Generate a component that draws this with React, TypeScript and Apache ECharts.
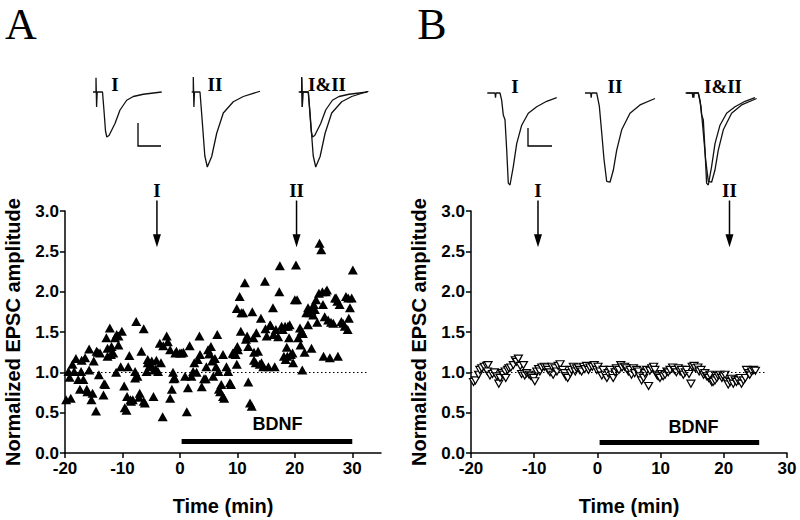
import React, { useEffect, useRef } from "react";
import * as echarts from "echarts";

const SANS = '"Liberation Sans", Arial, Helvetica, sans-serif';
const SERIF = '"Liberation Serif", "Times New Roman", Times, serif';

const timeTicks = [-20, -10, 0, 10, 20, 30];

// Panel A: EPSC amplitude with BDNF (filled triangles) [time (min), normalized amplitude]
const epscA: [number, number][] = [
  [-19.8, 0.66], [-19.0, 0.68], [-19.4, 1.01], [-19.2, 0.94], [-18.7, 1.1], [-18.4, 1.01], [-18.1, 1.17],
  [-17.7, 0.91], [-17.4, 0.79], [-17.2, 1.01], [-17.1, 1.15], [-16.8, 0.91], [-16.5, 1.18], [-16.2, 0.79],
  [-16.1, 0.76], [-15.8, 1.03], [-15.8, 1.29], [-15.4, 0.66], [-15.2, 0.74], [-15.0, 1.14], [-14.6, 0.52],
  [-14.5, 1.26], [-14.3, 1.25], [-14.1, 0.97], [-13.9, 1.24], [-13.3, 0.72], [-13.2, 0.86], [-13.0, 0.85],
  [-12.8, 1.43], [-12.6, 1.3], [-12.6, 1.2], [-12.2, 1.55], [-11.9, 1.32], [-12.0, 1.22], [-11.6, 1.24],
  [-11.3, 1.43], [-11.0, 1.47], [-11.1, 1.0], [-10.7, 1.45], [-10.7, 1.34], [-10.3, 1.07], [-10.1, 1.51],
  [-9.7, 0.83], [-9.6, 0.56], [-9.3, 0.53], [-9.2, 0.7], [-9.0, 1.07], [-8.8, 1.21], [-8.6, 0.66],
  [-8.5, 0.64], [-8.2, 0.66], [-7.8, 1.01], [-7.8, 0.93], [-7.6, 1.63], [-7.4, 0.95], [-7.1, 0.69],
  [-7.0, 0.74], [-6.7, 1.26], [-6.3, 1.54], [-6.3, 0.64], [-6.1, 0.62], [-5.8, 1.01], [-5.6, 1.16],
  [-5.6, 1.12], [-5.3, 1.07], [-5.1, 1.1], [-4.9, 1.14], [-4.6, 0.7], [-4.5, 1.03], [-4.2, 1.04],
  [-4.1, 1.15], [-3.8, 1.01], [-3.5, 1.36], [-3.3, 1.12], [-3.0, 0.45], [-2.9, 1.33], [-2.3, 1.45],
  [-2.1, 1.38], [-1.7, 1.28], [-1.7, 0.68], [-1.4, 0.79], [-1.2, 1.0], [-1.1, 0.92], [-0.9, 0.93],
  [-0.8, 1.24], [-0.6, 1.26], [0.0, 1.24], [0.3, 1.24], [0.6, 1.25], [0.9, 0.95], [1.2, 0.51],
  [1.4, 0.81], [1.7, 1.33], [2.0, 0.95], [2.3, 1.01], [2.5, 1.12], [2.9, 1.0], [3.1, 1.16],
  [3.4, 1.45], [3.5, 1.22], [3.8, 0.82], [4.2, 0.92], [4.5, 0.92], [4.6, 1.07], [4.9, 1.28],
  [5.1, 1.23], [5.2, 1.23], [5.4, 1.32], [5.6, 1.14], [5.8, 0.95], [6.1, 1.17], [6.3, 1.07],
  [6.5, 1.47], [6.7, 1.01], [6.8, 0.79], [7.0, 0.76], [7.2, 0.85], [7.5, 0.7], [7.5, 1.22],
  [7.7, 0.68], [8.1, 1.07], [8.4, 1.01], [8.7, 0.87], [8.9, 0.85], [9.2, 1.24], [9.3, 1.23],
  [9.4, 1.24], [9.7, 1.22], [9.9, 1.1], [10.0, 1.32], [9.9, 1.79], [10.1, 1.28], [10.4, 1.94],
  [10.6, 1.51], [10.7, 1.74], [11.0, 1.74], [11.3, 2.11], [11.5, 1.41], [11.7, 1.45], [11.9, 1.32],
  [11.9, 0.88], [12.2, 0.62], [12.5, 0.58], [12.6, 1.75], [12.8, 1.43], [12.9, 1.25], [12.9, 1.15],
  [13.2, 1.12], [13.3, 1.49], [13.6, 1.26], [13.9, 1.1], [14.1, 1.67], [14.2, 1.12], [14.5, 1.07],
  [14.8, 2.13], [14.9, 1.54], [15.1, 1.45], [15.4, 1.07], [15.7, 1.59], [15.8, 1.58], [16.2, 1.8],
  [16.3, 1.47], [16.5, 1.07], [16.7, 1.53], [17.1, 1.44], [17.3, 2.0], [17.4, 2.32], [17.7, 1.57],
  [17.9, 1.53], [18.1, 1.2], [18.3, 1.57], [18.4, 1.16], [18.6, 1.31], [18.7, 1.2], [18.8, 1.57],
  [19.0, 1.43], [19.1, 1.59], [19.3, 1.22], [19.6, 1.24], [19.7, 1.12], [20.0, 1.9], [20.2, 2.33],
  [20.4, 1.9], [20.6, 1.43], [20.9, 1.55], [21.0, 1.34], [21.2, 1.51], [21.3, 1.03], [21.4, 1.48],
  [21.7, 1.25], [22.0, 1.74], [22.3, 1.59], [22.3, 1.8], [22.6, 1.74], [22.9, 1.76], [22.9, 1.3],
  [23.2, 1.71], [23.3, 1.84], [23.5, 1.78], [23.7, 1.9], [23.9, 1.62], [24.2, 1.98], [24.3, 2.6],
  [24.6, 2.52], [24.8, 2.0], [24.9, 1.84], [25.0, 1.2], [25.2, 1.69], [25.4, 2.0], [25.6, 2.02],
  [25.8, 1.65], [26.1, 1.18], [26.3, 1.62], [26.7, 1.61], [27.0, 1.92], [27.2, 1.92], [27.4, 1.88],
  [27.5, 1.2], [27.8, 1.84], [28.1, 1.63], [28.4, 1.61], [28.7, 1.57], [28.9, 1.94], [29.2, 1.53],
  [29.3, 1.92], [29.4, 1.67], [29.6, 1.8], [29.9, 1.92], [30.1, 2.27],
];

// Panel B: control (open inverted triangles)
const epscB: [number, number][] = [
  [-19.6, 0.88], [-19.3, 0.9], [-18.8, 0.97], [-18.6, 1.03], [-18.3, 1.05], [-17.9, 1.07], [-17.5, 1.08],
  [-17.3, 1.09], [-17.4, 1.01], [-17.0, 0.96], [-16.6, 0.98], [-16.3, 1.0], [-15.9, 0.95], [-15.6, 0.86],
  [-15.4, 0.93], [-15.1, 0.99], [-14.9, 0.97], [-14.6, 1.01], [-14.5, 0.93], [-14.2, 1.03], [-14.0, 1.05],
  [-13.7, 1.06], [-13.3, 1.09], [-13.0, 1.15], [-12.8, 1.13], [-12.5, 1.17], [-12.2, 1.08], [-12.0, 0.98],
  [-11.7, 1.09], [-11.5, 0.96], [-11.2, 0.99], [-10.8, 0.97], [-10.5, 0.95], [-10.1, 0.93], [-9.9, 0.89],
  [-9.6, 1.01], [-9.3, 1.04], [-9.1, 1.01], [-8.8, 1.06], [-8.4, 1.07], [-8.0, 1.06], [-7.8, 1.03],
  [-7.5, 1.0], [-7.2, 1.07], [-7.0, 0.97], [-6.7, 1.05], [-6.4, 1.01], [-6.2, 1.08], [-5.9, 1.1],
  [-5.5, 1.03], [-5.2, 0.99], [-5.0, 0.95], [-4.7, 0.93], [-4.3, 0.99], [-4.1, 1.03], [-3.8, 1.07],
  [-3.5, 1.01], [-3.3, 1.05], [-3.0, 1.06], [-2.8, 1.03], [-2.5, 1.01], [-2.2, 1.07], [-2.0, 1.04],
  [-1.7, 1.08], [-1.4, 1.03], [-1.2, 1.06], [-0.8, 1.07], [-0.5, 1.09], [-0.1, 1.03], [0.1, 1.07],
  [0.4, 1.01], [0.7, 0.96], [0.9, 1.03], [1.2, 0.97], [1.5, 0.93], [1.7, 0.99], [2.0, 1.03],
  [2.3, 0.97], [2.5, 0.93], [2.8, 1.0], [3.0, 1.05], [3.4, 1.03], [3.7, 1.09], [3.9, 1.06],
  [4.3, 1.07], [4.6, 1.05], [4.9, 1.01], [5.2, 1.03], [5.4, 0.97], [5.7, 1.05], [5.9, 0.99],
  [6.2, 1.03], [6.5, 1.01], [6.7, 0.95], [7.0, 0.9], [7.3, 0.93], [7.5, 0.99], [7.8, 1.03],
  [8.1, 0.83], [8.3, 1.02], [8.6, 1.05], [8.9, 1.07], [9.1, 1.03], [9.4, 0.97], [9.6, 0.95],
  [9.9, 0.93], [10.2, 0.98], [10.4, 0.95], [10.7, 0.97], [11.0, 1.01], [11.2, 1.0], [11.5, 1.03],
  [11.9, 1.06], [12.2, 1.03], [12.5, 1.0], [12.8, 1.05], [13.1, 1.01], [13.3, 1.03], [13.6, 0.97],
  [13.9, 1.0], [14.1, 1.03], [14.5, 0.98], [14.8, 0.86], [15.0, 1.07], [15.3, 1.08], [15.5, 1.05],
  [15.9, 1.06], [16.1, 1.01], [16.4, 1.03], [16.8, 0.97], [17.0, 0.99], [17.3, 0.95], [17.6, 0.93],
  [17.8, 0.97], [18.1, 0.88], [18.3, 0.88], [18.6, 0.9], [18.9, 0.93], [19.1, 0.96], [19.4, 0.97],
  [19.7, 0.93], [19.9, 0.95], [20.2, 0.97], [20.5, 0.89], [20.7, 0.85], [21.0, 0.88], [21.2, 0.92],
  [21.5, 0.86], [21.8, 0.9], [22.0, 0.88], [22.3, 0.9], [22.6, 0.93], [22.8, 0.86], [23.1, 0.9],
  [23.4, 0.93], [23.6, 1.03], [23.9, 0.99], [24.1, 0.97], [24.4, 1.01], [24.7, 1.03], [25.0, 1.02],
];

// Example EPSC traces [time from stimulus, current (fraction of largest)]
const traceA_I: [number, number][] = [
  [-3, 0], [0, 0], [0, 0.19], [0.6, -0.2], [1.2, 0], [6.5, 0], [8, -0.25], [9.5, -0.52], [10.8, -0.6],
  [13, -0.58], [19, -0.42], [24, -0.24], [30.7, -0.11], [37.3, -0.06], [47.3, -0.03], [65.7, 0],
];
const traceA_II: [number, number][] = [
  [-1.6, 0], [0, 0], [0, 0.2], [0.6, -0.2], [1.2, 0], [6.7, 0], [9, -0.4], [11.5, -0.85], [14, -1.0],
  [18.4, -0.86], [23.4, -0.55], [30, -0.28], [40, -0.13], [50, -0.06], [66.7, 0.01],
];
const traceB_I: [number, number][] = [
  [-12.7, 0], [-5, 0], [-4.5, -0.05], [-4, 0], [0, 0], [1.7, -0.08], [3.3, -0.24], [5, -0.29],
  [6.7, -0.62], [8.3, -0.98], [10, -1.0], [13.3, -0.8], [16.7, -0.55], [21.7, -0.35], [28.3, -0.22],
  [36.7, -0.15], [46.7, -0.09], [56.7, -0.05],
];
const traceB_II: [number, number][] = [
  [-11.7, 0], [-6, 0], [-5.5, -0.05], [-5, 0], [0, 0], [2.6, -0.14], [5, -0.43], [7.3, -0.72],
  [10, -0.96], [13.3, -0.97], [16.6, -0.84], [20, -0.62], [25, -0.4], [33.3, -0.22], [43.3, -0.13],
  [58.3, -0.06],
];

const traceLabels = ["I", "II", "I&II"];

const arrowsA = [{ label: "I", t: -4.0 }, { label: "II", t: 20.3 }];
const arrowsB = [{ label: "I", t: -9.4 }, { label: "II", t: 20.9 }];
const arrowTopV = 3.13;
const arrowTipV = 2.55;
const arrowLabelV = 3.25;

const bdnfA = { start: 0.3, end: 30, level: 0.14, labelT: 17, labelV: 0.36 };
const bdnfB = { start: 0.35, end: 25.6, level: 0.13, labelT: 15.2, labelV: 0.32 };
const baselineEndA = 32.7;
const baselineEndB = 26.8;

const axisColor = "#000";

function mainX(gi: number, max: number) {
  return {
    gridIndex: gi,
    type: "value",
    min: -20,
    max,
    interval: 10,
    axisLine: { show: true, onZero: false, lineStyle: { color: axisColor, width: 1.5 } },
    axisTick: { show: true, length: 5, customValues: timeTicks, lineStyle: { color: axisColor, width: 1.5 } },
    axisLabel: {
      color: "#000", fontFamily: SANS, fontWeight: "bold", fontSize: 17, margin: 7, customValues: timeTicks,
    },
    splitLine: { show: false },
    name: "Time (min)",
    nameLocation: "middle",
    nameGap: 43,
    nameTextStyle: { color: "#000", fontFamily: SANS, fontWeight: "bold", fontSize: 20 },
  };
}

function mainY(gi: number) {
  return {
    gridIndex: gi,
    type: "value",
    min: 0,
    max: 3,
    interval: 0.5,
    axisLine: { show: true, onZero: false, lineStyle: { color: axisColor, width: 1.5 } },
    axisTick: { show: true, length: 5, lineStyle: { color: axisColor, width: 1.5 } },
    axisLabel: {
      color: "#000", fontFamily: SANS, fontWeight: "bold", fontSize: 17, margin: 6,
      formatter: (v: number) => v.toFixed(1),
    },
    splitLine: { show: false },
    name: "Normalized EPSC amplitude",
    nameLocation: "middle",
    nameGap: 42,
    nameTextStyle: { color: "#000", fontFamily: SANS, fontWeight: "bold", fontSize: 20 },
  };
}

function markers(b: typeof bdnfA, baselineEnd: number) {
  return {
    markLine: {
      silent: true,
      animation: false,
      symbol: ["none", "none"],
      label: { show: false },
      emphasis: { disabled: true },
      data: [
        [
          { coord: [-20, 1], lineStyle: { color: "#000", width: 1, type: [1.5, 2.5] } },
          { coord: [baselineEnd, 1] },
        ],
        [
          { coord: [b.start, b.level], lineStyle: { color: "#000", width: 5, type: "solid", cap: "butt" } },
          { coord: [b.end, b.level] },
        ],
      ],
    },
    markPoint: {
      silent: true,
      animation: false,
      symbol: "circle",
      symbolSize: 0,
      itemStyle: { color: "transparent" },
      label: {
        show: true, position: "inside", formatter: "BDNF", color: "#000",
        fontFamily: SANS, fontWeight: "bold", fontSize: 18,
      },
      data: [{ coord: [b.labelT, b.labelV] }],
    },
  };
}

const traceGridsA = [91, 188.3, 296.7].map((left) => ({ left, top: 69.5, width: 75, height: 120 }));
const traceGridsB = [485, 581.7, 683.3].map((left) => ({ left, top: 74.6, width: 75, height: 128.8 }));

export default function App() {
  const ref = useRef<HTMLDivElement>(null);

  useEffect(() => {
    document.body.style.margin = "0";
    const chart = echarts.init(ref.current!, null, { renderer: "svg" });

    const grids: any[] = [
      { left: 65, top: 211, width: 316, height: 242 },
      { left: 471, top: 211, width: 316, height: 242 },
      ...traceGridsA,
      ...traceGridsB,
    ];

    const xAxes: any[] = [mainX(0, 35), mainX(1, 30)];
    const yAxes: any[] = [mainY(0), mainY(1)];
    for (let i = 0; i < 6; i++) {
      const isA = i < 3;
      xAxes.push({ gridIndex: 2 + i, type: "value", min: isA ? -5 : -15, max: isA ? 70 : 60, show: false });
      yAxes.push({ gridIndex: 2 + i, type: "value", min: isA ? -1.3 : -1.2, max: isA ? 0.3 : 0.2, show: false });
    }

    const traceSets = [
      [traceA_I], [traceA_II], [traceA_I, traceA_II],
      [traceB_I], [traceB_II], [traceB_I, traceB_II],
    ];

    const series: any[] = [
      {
        type: "scatter",
        xAxisIndex: 0,
        yAxisIndex: 0,
        data: epscA,
        symbol: "triangle",
        symbolSize: [10, 9],
        itemStyle: { color: "#000", opacity: 1 },
        silent: true,
        z: 3,
        ...markers(bdnfA, baselineEndA),
      },
      {
        type: "scatter",
        xAxisIndex: 1,
        yAxisIndex: 1,
        data: epscB,
        symbol: "triangle",
        symbolRotate: 180,
        symbolSize: [8, 7],
        itemStyle: { color: "#fff", borderColor: "#000", borderWidth: 1.2, opacity: 1 },
        silent: true,
        z: 3,
        ...markers(bdnfB, baselineEndB),
      },
    ];
    traceSets.forEach((set, i) => {
      set.forEach((tr) => {
        series.push({
          type: "line",
          xAxisIndex: 2 + i,
          yAxisIndex: 2 + i,
          data: tr,
          showSymbol: false,
          symbol: "none",
          silent: true,
          clip: false,
          lineStyle: { color: "#111", width: 1.3 },
        });
      });
    });

    chart.setOption({
      animation: false,
      backgroundColor: "#fff",
      grid: grids,
      xAxis: xAxes,
      yAxis: yAxes,
      series,
    });

    const g: any[] = [];
    const textStyle = (text: string, x: number, y: number, font: string) => ({
      text, x, y, font, fill: "#000",
      textAlign: "center", textVerticalAlign: "middle", align: "center", verticalAlign: "middle",
    });

    // panel letters
    g.push({ type: "text", silent: true, style: textStyle("A", 21, 24, `44px ${SERIF}`) });
    g.push({ type: "text", silent: true, style: textStyle("B", 432, 24, `44px ${SERIF}`) });

    // trace labels
    const labelXA = [115, 215, 327];
    const labelXB = [515, 615, 723];
    traceLabels.forEach((t, i) => {
      g.push({ type: "text", silent: true, style: textStyle(t, labelXA[i], 84, `bold 19px ${SERIF}`) });
      g.push({ type: "text", silent: true, style: textStyle(t, labelXB[i], 86, `bold 19px ${SERIF}`) });
    });

    // scale bars
    const bars = [
      { x: 138, y1: 123, y2: 146, x2: 161 },
      { x: 528, y1: 128, y2: 146, x2: 552 },
    ];
    bars.forEach((b) => {
      g.push({ type: "polyline", silent: true, shape: { points: [[b.x, b.y1], [b.x, b.y2], [b.x2, b.y2]] },
        style: { stroke: "#000", lineWidth: 1.3, fill: "none" } });
    });

    // arrows
    const arrowSets: [number, typeof arrowsA][] = [[0, arrowsA], [1, arrowsB]];
    arrowSets.forEach(([gi, arr]) => {
      arr.forEach((a) => {
        const top = chart.convertToPixel({ gridIndex: gi }, [a.t, arrowTopV]) as number[];
        const tip = chart.convertToPixel({ gridIndex: gi }, [a.t, arrowTipV]) as number[];
        const lab = chart.convertToPixel({ gridIndex: gi }, [a.t, arrowLabelV]) as number[];
        g.push({ type: "line", silent: true, shape: { x1: top[0], y1: top[1], x2: tip[0], y2: tip[1] - 8 },
          style: { stroke: "#000", lineWidth: 1.5 } });
        g.push({ type: "polygon", silent: true,
          shape: { points: [[tip[0] - 4, tip[1] - 13], [tip[0] + 4, tip[1] - 13], [tip[0], tip[1]]] },
          style: { fill: "#000" } });
        g.push({ type: "text", silent: true, style: textStyle(a.label, lab[0], lab[1], `bold 19px ${SERIF}`) });
      });
    });

    chart.setOption({ graphic: g });

    return () => chart.dispose();
  }, []);

  return <div ref={ref} style={{ width: 800, height: 520 }} />;
}
